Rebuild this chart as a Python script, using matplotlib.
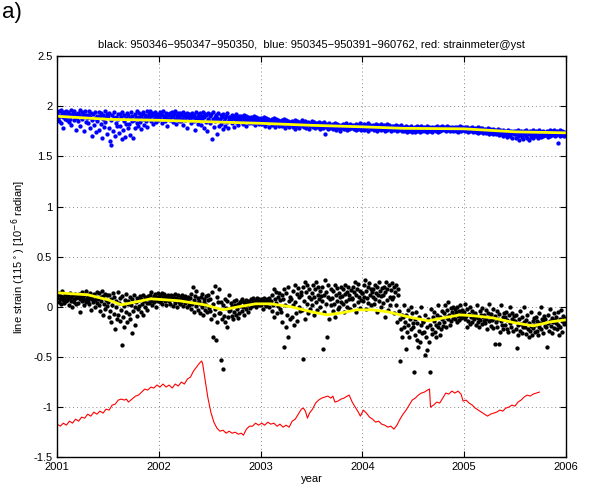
import numpy as np
import matplotlib
matplotlib.use("Agg")
import matplotlib.pyplot as plt

plt.rcParams['font.family'] = ['Liberation Sans', 'DejaVu Sans']

# GPS baseline samples: one value every 1/150 yr from 2001.0, in 1e-2 microstrain
T_START = 2001.0
PER_YEAR = 150

black_cents = [
    9, 12, 5, 14, 8, 3, 11, 16, 7, 10, 4, 13, 9, 6, 12,
    7, 11, 2, 9, 14, 6, 10, 0, 12, 8, 5, 13, 9, 3, 10,
    10, 4, 13, 8, -5, 11, 6, 15, 9, 2, 12, 7, 16, 5, 9,
    6, 12, 3, 9, 14, -3, 8, 11, 5, 13, 7, 0, 10, 15, 4,
    8, 2, 14, -4, 10, 6, 16, -8, 11, 3, 13, -2, 7, 12, 1,
    5, -10, 12, -4, 8, -15, 2, 14, -7, 10, -22, 0, 6, -12, 15,
    -8, 4, -14, 9, -3, -38, 11, -10, 1, -20, 7, -5, 13, -15, 3,
    6, -7, 10, -12, 2, -26, 8, -4, 12, -18, 0, 5, -9, 9, -2,
    7, 1, 11, -5, 8, 3, 12, -8, 6, 10, 0, 9, 4, -3, 11,
    8, 4, 12, 6, 15, 2, 9, 11, 5, 13, 7, 0, 10, 6, 14,
    9, 5, 12, 7, 14, 3, 10, 8, 13, 6, 11, 2, 9, 12, 7,
    6, 10, 3, 12, 8, 1, 11, 7, 13, 4, 9, 0, 8, 12, 5,
    8, 3, 10, 5, 12, 1, 7, 9, 4, 11, 6, 0, 8, 10, 2,
    5, 9, -2, 13, 3, 20, 7, -5, 11, 1, 16, 4, -3, 9, 6,
    3, -6, 10, 0, 13, -8, 5, 8, -3, 11, 2, -5, 7, 12, -1,
    -4, 8, -12, 15, -30, 3, -8, 21, -2, -33, 10, -15, 5, -6, 18,
    -6, 5, -53, -12, 2, -62, -9, 8, -15, -1, -20, 6, -10, 12, -4,
    -3, 4, -9, 1, -12, 6, -5, 2, -8, 7, -2, -11, 3, -6, 5,
    1, 6, -4, 8, 0, -8, 5, 3, -2, 7, 2, -5, 6, 4, -1,
    4, 8, 1, 6, 9, 2, 5, 7, 0, 9, 3, 6, 8, 2, 5,
    5, 2, 8, -2, 6, 9, 3, 7, 1, 8, 4, 6, 0, 9, 5,
    6, -4, 12, 2, 18, -10, 8, 4, 15, -6, 10, 1, 14, -2, 7,
    -5, 12, -15, 8, -40, 18, 2, -20, 14, -8, 20, -30, 6, -12, 10,
    8, -10, 16, 2, -18, 22, 5, -6, 13, -14, 19, 0, 10, -4, 15,
    12, -3, 20, -52, 6, 25, -12, 15, 3, 22, -6, 10, 18, -2, 8,
    14, 2, 22, -8, 10, 18, 5, 25, -3, 12, 20, 8, 16, 0, 11,
    6, 20, -42, 12, -5, 27, 3, 15, -30, 10, 22, -12, 8, 18, 2,
    9, -4, 16, 3, 22, -10, 12, 6, 19, -2, 14, 0, 10, 20, 5,
    11, 3, 18, -5, 13, 22, 6, 15, 0, 20, 8, 12, -2, 17, 9,
    8, 20, 2, 15, 25, -5, 12, 18, 5, 23, 10, -1, 16, 7, 14,
    14, 6, 22, 10, 27, -2, 16, 9, 20, 4, 24, 12, 18, 2, 15,
    10, 18, 3, 22, 8, 14, -5, 20, 12, 25, 6, 16, 0, 11, 19,
    12, 4, 20, -10, 15, 25, 7, 18, -3, 22, 10, 2, 17, 8, 24,
    10, 20, -6, 15, 22, 2, -15, 12, 18, -4, -54, -12, -22, -8, -30,
    -10, -20, 2, -15, -42, -8, -25, -3, -18, -30, -12, 0, -22, -6, -16,
    -20, -65, -12, -28, -5, -33, -16, -40, -24, -10, -35, -18, 0, -26, -14,
    -15, -25, -48, -8, -30, -20, -43, -12, -35, -65, -18, -2, -27, -22, -10,
    -14, -5, -25, -18, -30, -8, -20, 2, -16, -28, -10, -22, -4, -12, -19,
    -6, -15, 2, -10, -20, -3, -12, 5, -8, -18, -1, -14, -5, -11, 0,
    -8, -2, -12, -5, -15, 0, -9, -4, -13, 2, -7, -11, -3, -10, -6,
    -5, -12, 3, -9, -20, -2, -14, -7, -17, 0, -10, -4, -15, -8, -11,
    -12, -6, -18, -9, 2, -15, -11, -20, -4, -13, -8, -17, -1, -10, -14,
    -8, -16, -3, -12, -22, -6, -14, 3, -10, -19, -7, -13, -21, -2, -11,
    -37, -9, -15, -4, -20, -12, -37, -7, -25, -14, 2, -18, -10, -22, -6,
    -10, -18, -5, -22, -13, -25, -8, -16, 0, -20, -12, -6, -24, -14, -9,
    -14, -22, -8, -41, -18, -28, -12, -24, -4, -17, -26, -10, -20, 0, -15,
    -20, -13, -27, -8, -22, -30, -16, -24, -5, -19, -28, -14, -21, -11, -25,
    -18, -10, -24, -14, -28, -6, -20, -16, 0, -22, -12, -26, -15, -9, -19,
    -12, -20, -40, -8, -16, -24, -14, -2, -19, -11, -26, -15, -6, -21, -13,
    -16, -10, -22, -5, -18, -28, -12, -20, -3, -14, -25, -9, -17, -11, -15,
]

blue_cents = [
    192, 188, 195, 185, 190, 196, 183, 193, 189, 178, 194, 187, 191, 195, 186,
    190, 194, 184, 192, 187, 196, 181, 191, 193, 186, 195, 189, 176, 192, 188,
    193, 185, 191, 196, 180, 189, 194, 187, 192, 175, 190, 195, 184, 191, 188,
    191, 183, 195, 178, 189, 193, 170, 186, 192, 181, 194, 188, 174, 190, 185,
    188, 194, 176, 190, 182, 193, 168, 187, 191, 179, 195, 184, 189, 172, 192,
    190, 178, 193, 165, 186, 161, 191, 175, 188, 194, 170, 183, 189, 180, 192,
    187, 173, 192, 180, 189, 167, 194, 176, 185, 191, 169, 188, 182, 193, 178,
    191, 182, 188, 171, 194, 185, 190, 168, 186, 192, 178, 189, 183, 195, 180,
    189, 193, 184, 190, 177, 192, 187, 194, 181, 188, 191, 185, 195, 179, 190,
    192, 188, 195, 185, 190, 193, 182, 191, 187, 194, 189, 184, 192, 190, 186,
    190, 194, 187, 192, 183, 191, 195, 188, 190, 185, 193, 189, 180, 192, 187,
    191, 186, 193, 189, 194, 184, 190, 192, 187, 195, 182, 191, 188, 193, 185,
    189, 193, 185, 191, 187, 194, 181, 190, 192, 186, 189, 193, 178, 191, 188,
    192, 187, 190, 183, 193, 189, 185, 191, 176, 188, 194, 186, 190, 182, 192,
    188, 193, 181, 190, 186, 194, 178, 189, 192, 184, 191, 175, 187, 193, 185,
    190, 183, 192, 167, 187, 194, 179, 189, 185, 191, 172, 188, 193, 180, 186,
    187, 191, 182, 189, 177, 192, 185, 188, 180, 190, 184, 193, 178, 189, 186,
    189, 185, 191, 183, 188, 190, 179, 187, 192, 184, 189, 186, 181, 190, 187,
    187, 190, 184, 189, 182, 191, 186, 188, 180, 190, 185, 187, 189, 183, 188,
    186, 189, 183, 188, 185, 190, 181, 187, 189, 184, 186, 188, 182, 187, 185,
    185, 188, 182, 187, 184, 189, 180, 186, 188, 183, 185, 187, 179, 186, 184,
    184, 187, 181, 186, 183, 188, 179, 185, 187, 182, 184, 186, 180, 185, 183,
    183, 186, 180, 185, 182, 187, 178, 184, 186, 181, 183, 185, 179, 184, 182,
    182, 185, 179, 184, 181, 186, 177, 183, 185, 180, 182, 184, 178, 183, 181,
    183, 186, 180, 184, 179, 182, 185, 178, 183, 181, 184, 177, 182, 180, 183,
    182, 185, 179, 181, 184, 178, 182, 180, 183, 179, 181, 184, 177, 182, 180,
    181, 183, 178, 180, 184, 172, 181, 179, 182, 177, 180, 183, 178, 181, 179,
    180, 182, 177, 181, 179, 183, 176, 180, 182, 178, 179, 181, 175, 180, 178,
    181, 179, 182, 177, 180, 178, 183, 176, 181, 179, 180, 177, 182, 178, 180,
    179, 181, 177, 180, 178, 182, 176, 179, 181, 177, 180, 178, 183, 176, 179,
    180, 178, 182, 176, 179, 181, 177, 180, 183, 175, 179, 181, 177, 180, 178,
    178, 181, 176, 180, 177, 182, 175, 179, 181, 177, 178, 180, 176, 182, 179,
    179, 177, 181, 175, 180, 178, 182, 176, 179, 181, 177, 179, 175, 180, 178,
    178, 180, 176, 179, 177, 181, 175, 178, 180, 176, 179, 177, 181, 175, 178,
    177, 179, 175, 178, 176, 180, 174, 177, 179, 175, 178, 176, 180, 174, 177,
    178, 176, 179, 174, 177, 180, 175, 178, 176, 179, 174, 177, 180, 175, 178,
    177, 179, 175, 178, 176, 180, 174, 177, 179, 175, 178, 176, 179, 174, 177,
    178, 176, 179, 175, 177, 180, 174, 178, 176, 179, 175, 177, 180, 176, 178,
    177, 179, 176, 178, 175, 180, 176, 177, 179, 175, 178, 176, 179, 175, 177,
    178, 176, 179, 175, 177, 179, 174, 178, 176, 180, 175, 177, 179, 176, 178,
    177, 179, 175, 178, 176, 179, 174, 177, 178, 175, 177, 176, 179, 174, 177,
    176, 178, 174, 177, 175, 179, 173, 176, 178, 174, 177, 175, 178, 173, 176,
    175, 177, 173, 176, 174, 178, 172, 175, 177, 173, 176, 174, 177, 172, 175,
    174, 176, 172, 175, 173, 177, 171, 174, 176, 172, 175, 173, 176, 170, 174,
    173, 175, 171, 174, 169, 176, 172, 174, 170, 175, 173, 168, 174, 172, 175,
    172, 175, 168, 174, 170, 176, 166, 173, 171, 175, 169, 174, 167, 172, 175,
    173, 170, 176, 168, 174, 166, 172, 175, 169, 173, 171, 176, 168, 174, 170,
    172, 175, 170, 174, 168, 173, 176, 171, 174, 169, 172, 175, 170, 173, 171,
    173, 171, 175, 169, 174, 172, 176, 170, 173, 175, 171, 174, 172, 176, 170,
    174, 171, 175, 172, 163, 174, 170, 176, 173, 171, 175, 172, 174, 170, 173,
]

# smoothed fits (yellow)
fit_black_t = [2001.0, 2001.3, 2001.5, 2001.63, 2001.78, 2001.92, 2002.2, 2002.45,
               2002.63, 2002.78, 2002.95, 2003.1, 2003.3, 2003.5, 2003.65, 2003.8,
               2003.94, 2004.1, 2004.25, 2004.45, 2004.65, 2004.8, 2004.96, 2005.1,
               2005.28, 2005.5, 2005.68, 2005.85, 2006.0]
fit_black_y = [0.14, 0.12, 0.07, 0.02, 0.05, 0.08, 0.06, 0.02,
               -0.03, 0.0, 0.03, 0.03, 0.0, -0.05, -0.08, -0.06,
               -0.03, -0.03, -0.05, -0.10, -0.14, -0.11, -0.08, -0.09,
               -0.11, -0.16, -0.19, -0.15, -0.13]
fit_blue_t = [2001.0, 2001.5, 2002.0, 2002.5, 2003.0, 2003.5, 2004.0, 2004.4,
              2005.0, 2005.5, 2006.0]
fit_blue_y = [1.90, 1.87, 1.86, 1.845, 1.83, 1.81, 1.795, 1.78, 1.775, 1.745, 1.735]

# strainmeter record (red)
red_t = [2001.00, 2001.03, 2001.06, 2001.09, 2001.12, 2001.15, 2001.18, 2001.21, 2001.24,
         2001.27, 2001.30, 2001.33, 2001.36, 2001.39, 2001.42, 2001.45, 2001.48, 2001.51,
         2001.54, 2001.57, 2001.60, 2001.63, 2001.66, 2001.68, 2001.70, 2001.77, 2001.80,
         2001.83, 2001.86, 2001.89, 2001.92, 2001.95, 2001.98, 2002.01, 2002.04, 2002.07,
         2002.10, 2002.13, 2002.16, 2002.19, 2002.22, 2002.25, 2002.28, 2002.31, 2002.34,
         2002.37, 2002.40, 2002.42, 2002.43, 2002.45, 2002.48, 2002.51, 2002.54, 2002.57,
         2002.60, 2002.63, 2002.66, 2002.69, 2002.72, 2002.75, 2002.78, 2002.81, 2002.83,
         2002.86, 2002.89, 2002.92, 2002.95, 2002.98, 2003.01, 2003.04, 2003.07, 2003.10,
         2003.13, 2003.16, 2003.19, 2003.22, 2003.25, 2003.28, 2003.31, 2003.34, 2003.37,
         2003.40, 2003.42, 2003.44, 2003.46, 2003.48, 2003.51, 2003.54, 2003.57, 2003.60,
         2003.63, 2003.66, 2003.69, 2003.71, 2003.73, 2003.76, 2003.79, 2003.82, 2003.85,
         2003.87, 2003.90, 2003.93, 2003.96, 2003.98, 2004.01, 2004.04, 2004.07, 2004.10,
         2004.13, 2004.16, 2004.19, 2004.22, 2004.25, 2004.28, 2004.31, 2004.34, 2004.37,
         2004.40, 2004.43, 2004.46, 2004.49, 2004.52, 2004.55, 2004.58, 2004.61, 2004.64,
         2004.66, 2004.67, 2004.70, 2004.73, 2004.76, 2004.79, 2004.82, 2004.85, 2004.88,
         2004.91, 2004.94, 2004.97, 2004.99, 2005.02, 2005.05, 2005.08, 2005.11, 2005.14,
         2005.17, 2005.20, 2005.23, 2005.26, 2005.29, 2005.32, 2005.35, 2005.38, 2005.41,
         2005.44, 2005.47, 2005.50, 2005.53, 2005.56, 2005.59, 2005.62, 2005.65, 2005.68,
         2005.71, 2005.74]
red_y = [-1.17, -1.19, -1.16, -1.18, -1.14, -1.16, -1.12, -1.14, -1.10,
         -1.11, -1.07, -1.09, -1.05, -1.07, -1.04, -1.06, -1.02, -1.03,
         -0.98, -0.97, -0.93, -0.92, -0.93, -0.92, -0.95, -0.89, -0.88,
         -0.85, -0.82, -0.83, -0.80, -0.81, -0.78, -0.80, -0.77, -0.80,
         -0.78, -0.81, -0.77, -0.79, -0.75, -0.77, -0.72, -0.70, -0.64,
         -0.60, -0.56, -0.54, -0.57, -0.70, -0.90, -1.05, -1.15, -1.21,
         -1.24, -1.23, -1.26, -1.24, -1.26, -1.25, -1.27, -1.26, -1.28,
         -1.22, -1.19, -1.19, -1.16, -1.18, -1.16, -1.18, -1.15, -1.17,
         -1.16, -1.19, -1.17, -1.20, -1.18, -1.20, -1.14, -1.12, -1.07,
         -1.02, -1.01, -1.04, -1.11, -1.06, -1.02, -0.96, -0.93, -0.91,
         -0.90, -0.89, -0.91, -0.89, -0.95, -0.94, -0.92, -0.91, -0.89,
         -0.88, -0.95, -1.00, -1.05, -1.09, -1.03, -1.06, -1.10, -1.12,
         -1.15, -1.14, -1.17, -1.18, -1.20, -1.19, -1.22, -1.18, -1.12,
         -1.07, -1.03, -0.98, -0.93, -0.91, -0.88, -0.86, -0.85, -0.83,
         -0.82, -1.00, -0.98, -0.95, -0.96, -0.91, -0.86, -0.87, -0.84,
         -0.86, -0.84, -0.87, -0.94, -0.93, -0.96, -0.98, -1.01, -1.03,
         -1.05, -1.07, -1.09, -1.07, -1.06, -1.05, -1.03, -1.04, -1.01,
         -1.00, -0.98, -0.99, -0.95, -0.93, -0.90, -0.88, -0.89, -0.87,
         -0.86, -0.85]

black_t = T_START + np.arange(len(black_cents)) / PER_YEAR
blue_t = T_START + np.arange(len(blue_cents)) / PER_YEAR
black_y = np.array(black_cents) / 100.0
blue_y = np.array(blue_cents) / 100.0

fig = plt.figure(figsize=(5.9, 4.88), dpi=100)
ax = fig.add_axes([0.097, 0.063, 0.862, 0.822])

ax.plot(blue_t, blue_y, 'o', color='#0000ff', ms=3.1, mew=0)
ax.plot(black_t, black_y, 'o', color='black', ms=3.1, mew=0)
ax.plot(red_t, red_y, color='#ff0000', lw=0.8)
ax.plot(fit_blue_t, fit_blue_y, color='#ffff00', lw=2)
ax.plot(fit_black_t, fit_black_y, color='#ffff00', lw=2)

ax.set_xlim(2001, 2006)
ax.set_ylim(-1.5, 2.5)
ax.set_xticks([2001, 2002, 2003, 2004, 2005, 2006])
ax.set_yticks([-1.5, -1, -0.5, 0, 0.5, 1, 1.5, 2, 2.5])
ax.set_yticklabels(['-1.5', '-1', '-0.5', '0', '0.5', '1', '1.5', '2', '2.5'])
ax.grid(True, linestyle=(0, (1, 3)), color='#888888', lw=0.7)
ax.tick_params(direction='in', top=True, right=True, labelsize=8, length=4)
for s in ax.spines.values():
    s.set_linewidth(1.0)

ax.set_xlabel('year', fontsize=8, labelpad=1)
ax.set_ylabel(r'line strain (115$^\circ$) [10$^{-6}$ radian]', fontsize=8, labelpad=4)
ax.set_title('black: 950346\u2212950347\u2212950350,  blue: 950345\u2212950391\u2212960762, red: strainmeter@yst',
             fontsize=8, pad=6)
fig.text(0.003, 0.995, 'a)', fontsize=16, ha='left', va='top')

fig.savefig('out.png', dpi=100)
